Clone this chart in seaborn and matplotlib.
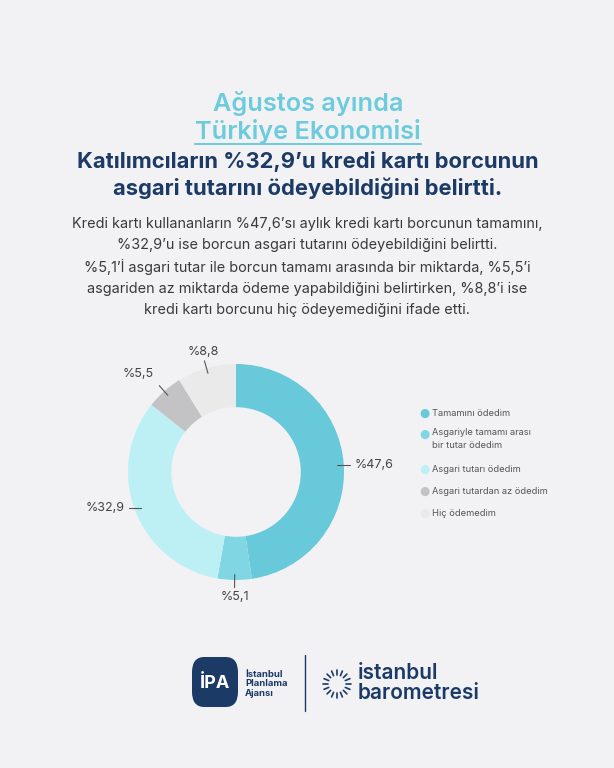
import numpy as np
import matplotlib
matplotlib.use("Agg")
import matplotlib.pyplot as plt
import seaborn as sns
from matplotlib.patches import FancyBboxPatch

# ---- data ----
categories = ["Tamamını ödedim", "Asgariyle tamamı arası\nbir tutar ödedim",
              "Asgari tutarı ödedim", "Asgari tutardan az ödedim", "Hiç ödemedim"]
values = [47.6, 5.1, 32.9, 5.5, 8.8]
value_labels = ["%47,6", "%5,1", "%32,9", "%5,5", "%8,8"]
colors = ["#68c9db", "#80d6e3", "#bdf0f5", "#c3c3c5", "#eaeaea"]

title1 = "Ağustos ayında"
title2 = "Türkiye Ekonomisi"
headline = ["Katılımcıların %32,9’u kredi kartı borcunun",
            "asgari tutarını ödeyebildiğini belirtti."]
body = ["Kredi kartı kullananların %47,6’sı aylık kredi kartı borcunun tamamını,",
        "%32,9’u ise borcun asgari tutarını ödeyebildiğini belirtti.",
        "%5,1’İ asgari tutar ile borcun tamamı arasında bir miktarda, %5,5’i",
        "asgariden az miktarda ödeme yapabildiğini belirtirken, %8,8’i ise",
        "kredi kartı borcunu hiç ödeyemediğini ifade etti."]

BG = "#f2f2f4"
NAVY = "#1b3a66"
LIGHT = "#6ccbdc"

sns.set_theme(style="white")
plt.rcParams["font.family"] = ["Inter", "DejaVu Sans"]

W, H = 614, 768
fig = plt.figure(figsize=(W / 100, H / 100), dpi=100, facecolor=BG)

def fx(x):
    return x / W

def fy(y):
    return 1 - y / H

# ---- titles ----
fig.text(fx(308), fy(103), title1, ha="center", va="center", fontsize=18.2,
         fontweight="semibold", color=LIGHT)
t2 = fig.text(fx(308), fy(131), title2, ha="center", va="center", fontsize=18.2,
              fontweight="semibold", color=LIGHT)
fig.text(fx(308), fy(161), headline[0], ha="center", va="center", fontsize=15.8,
         fontweight="bold", color=NAVY)
fig.text(fx(308), fy(188), headline[1], ha="center", va="center", fontsize=15.8,
         fontweight="bold", color=NAVY)
for i, line in enumerate(body):
    fig.text(fx(307), fy(224 + i * 21.5), line, ha="center", va="center",
             fontsize=10.4, color="#3a3a3a")

# underline under title2
fig.canvas.draw()
bb = t2.get_window_extent(renderer=fig.canvas.get_renderer())
fig.add_artist(plt.Line2D([bb.x0 / W, bb.x1 / W], [fy(144), fy(144)],
                          color=LIGHT, lw=1.4))

# ---- donut ----
cx, cy, R = 236, 472, 108
half = 1.4 * R
ax = fig.add_axes([fx(cx - half), fy(cy + half), 2 * half / W, 2 * half / H])
ax.set_facecolor(BG)
wedges, _ = ax.pie(values, colors=colors, startangle=90, counterclock=False,
                   radius=1.0, wedgeprops=dict(width=0.4, edgecolor="none"))
ax.set_xlim(-1.4, 1.4)
ax.set_ylim(-1.4, 1.4)
ax.set_aspect("equal")
ax.axis("off")

for w, lab in zip(wedges, value_labels):
    ang = np.deg2rad((w.theta1 + w.theta2) / 2)
    c, s = np.cos(ang), np.sin(ang)
    if abs(s) < 0.5:
        # side label: horizontal leader
        yy = 0.93 * s
        ax.plot([0.94 * c, 1.06 * c], [yy, yy], color="#555555", lw=0.8)
        ax.text(1.1 * c, yy, lab, ha="left" if c > 0 else "right", va="center",
                fontsize=9, color="#444444")
    else:
        ax.plot([0.95 * c, 1.07 * c], [0.95 * s, 1.07 * s], color="#555555", lw=0.8)
        ha = "left" if c > 0.3 else ("right" if c < -0.3 else "center")
        va = "bottom" if s > 0 else "top"
        rr = 1.1 if abs(c) < 0.3 else 1.14
        ax.text(rr * c, rr * s, lab, ha=ha, va=va, fontsize=9, color="#444444")

# ---- legend ----
leg_y = [413, 434, 469, 491, 513]
for col, lab, y in zip(colors, categories, leg_y):
    fig.text(fx(424), fy(y), "●", ha="center", va="center", fontsize=8.5,
             color=col, family=["DejaVu Sans"])
    if "\n" in lab:
        fig.text(fx(432), fy(y - 6), lab, ha="left", va="top", fontsize=6.7,
                 color="#555555", linespacing=1.6)
    else:
        fig.text(fx(432), fy(y), lab, ha="left", va="center", fontsize=6.7,
                 color="#555555")

# ---- logos ----
fig.add_artist(FancyBboxPatch((fx(192), fy(707)), fx(46), 50 / H,
                              boxstyle="round,pad=0,rounding_size=0.02",
                              transform=fig.transFigure, facecolor=NAVY,
                              edgecolor="none"))
fig.text(fx(215), fy(684), "İPA", ha="center", va="center", fontsize=13,
         fontweight="bold", color="white")
fig.text(fx(245), fy(684), "İstanbul\nPlanlama\nAjansı", ha="left", va="center",
         fontsize=6.8, fontweight="bold", color=NAVY, linespacing=1.05)
fig.add_artist(plt.Line2D([fx(305), fx(305)], [fy(655), fy(711)],
                          color=NAVY, lw=1.0))
scx, scy = 337, 684
for k in range(16):
    a = 2 * np.pi * k / 16
    fig.add_artist(plt.Line2D([fx(scx + 9 * np.cos(a)), fx(scx + 14 * np.cos(a))],
                              [fy(scy - 9 * np.sin(a)), fy(scy - 14 * np.sin(a))],
                              color=NAVY, lw=1.2))
fig.text(fx(358), fy(683), "istanbul\nbarometresi", ha="left", va="center",
         fontsize=15, fontweight="semibold", color=NAVY, linespacing=0.95)

fig.savefig("out.png", dpi=100, facecolor=BG)
